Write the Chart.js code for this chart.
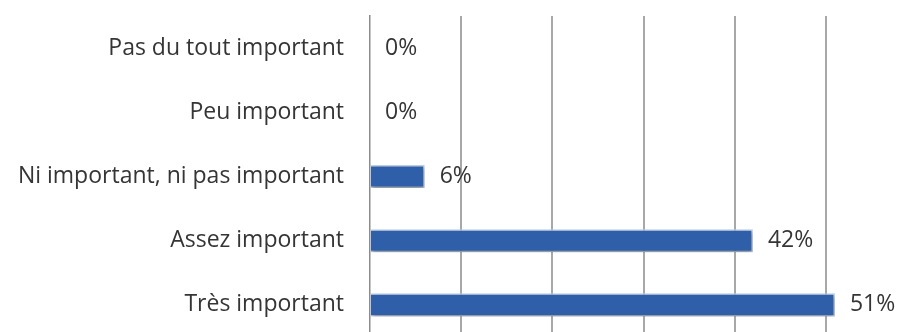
<!DOCTYPE html>
<html>
<head>
<meta charset="utf-8">
<script src="https://cdn.jsdelivr.net/npm/chart.js@4/dist/chart.umd.min.js"></script>
<style>
  html, body { margin: 0; padding: 0; background: #ffffff; }
  /* the plot runs on past the right and bottom edges of the visible frame */
  #frame { position: relative; width: 910px; height: 332px; overflow: hidden; }
  #c { position: absolute; left: 0; top: 0; }
</style>
</head>
<body>
<div id="frame"><canvas id="c" width="940" height="360"></canvas></div>
<script>
// Survey answers, top to bottom
const categories = [
  'Pas du tout important',
  'Peu important',
  'Ni important, ni pas important',
  'Assez important',
  'Très important'
];
// Share of respondents (%)
const shares = [0, 0, 6, 42, 51];
// Text shown next to each bar
const shareLabels = ['0%', '0%', '6%', '42%', '51%'];

const FONT = '"Open Sans", Lato, sans-serif';
const FONT_SIZE = 23;
const TEXT = '#353535';

// Soft drop shadow under the bars
const barShadow = {
  id: 'barShadow',
  beforeDatasetsDraw(chart) {
    const ctx = chart.ctx;
    ctx.save();
    ctx.shadowColor = 'rgba(0,0,0,0.35)';
    ctx.shadowBlur = 4;
    ctx.shadowOffsetX = 1;
    ctx.shadowOffsetY = 2;
  },
  afterDatasetsDraw(chart) {
    chart.ctx.restore();
  }
};

// Percentage written just past the end of each bar
const valueLabels = {
  id: 'valueLabels',
  afterDatasetsDraw(chart) {
    const ctx = chart.ctx;
    const meta = chart.getDatasetMeta(0);
    ctx.save();
    ctx.font = FONT_SIZE + 'px ' + FONT;
    ctx.fillStyle = TEXT;
    ctx.textAlign = 'left';
    ctx.textBaseline = 'middle';
    meta.data.forEach((bar, i) => {
      ctx.fillText(shareLabels[i], bar.x + 15, bar.y);
    });
    ctx.restore();
  }
};

new Chart(document.getElementById('c'), {
  type: 'bar',
  data: {
    labels: categories,
    datasets: [{
      data: shares,
      backgroundColor: '#2f5fa9',
      borderColor: '#c3d5ee',
      borderWidth: 1.5,
      barPercentage: 0.72,
      categoryPercentage: 0.5
    }]
  },
  options: {
    indexAxis: 'y',
    responsive: false,
    animation: false,
    devicePixelRatio: 1,
    layout: { padding: { top: 16, right: 23, bottom: 23, left: 0 } },
    plugins: {
      legend: { display: false },
      tooltip: { enabled: false }
    },
    scales: {
      x: {
        min: 0,
        max: 60,
        ticks: { display: false, stepSize: 10 },
        grid: {
          drawTicks: false,
          color: (c) => (c.tick && c.tick.value === 0) ? 'rgba(0,0,0,0)' : '#a8a8a8',
          lineWidth: 2
        },
        border: { display: false },
        afterFit(scale) {
          scale.height = 0;
          scale.paddingLeft = scale.paddingRight = 0;
        }
      },
      y: {
        ticks: {
          color: TEXT,
          font: { family: FONT, size: FONT_SIZE },
          padding: 26
        },
        grid: { display: false, drawTicks: false },
        border: { display: true, color: '#8c8c8c', width: 1.5 },
        afterFit(scale) {
          scale.width = 370;
          scale.paddingTop = scale.paddingBottom = 0;
        }
      }
    }
  },
  plugins: [barShadow, valueLabels]
});
</script>
</body>
</html>
